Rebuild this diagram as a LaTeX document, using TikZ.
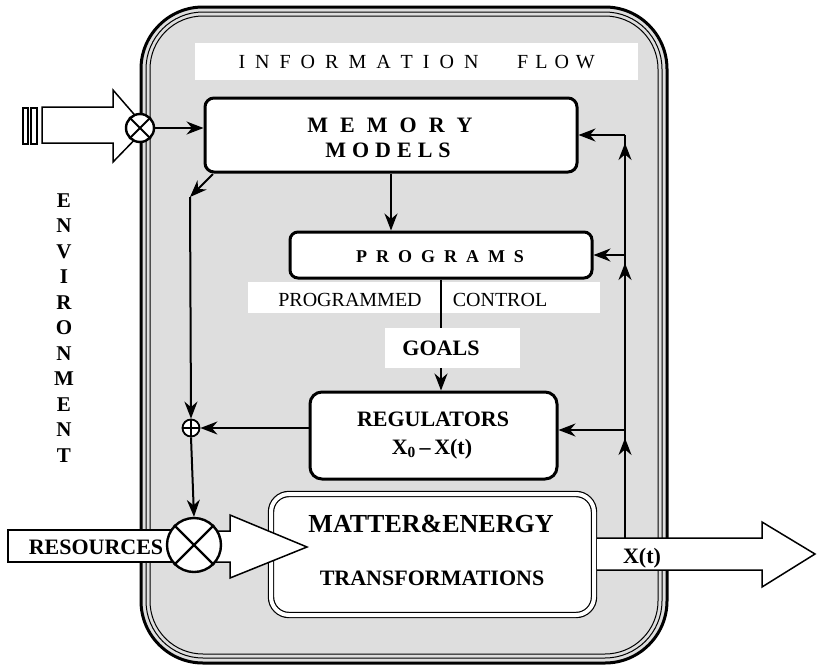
\documentclass[tikz,border=0pt]{standalone}
\usepackage{fontspec}
\setmainfont{Liberation Serif}
\usetikzlibrary{arrows.meta}
\newcommand\gp[1]{\hspace{#1pt}}
\begin{document}
\begin{tikzpicture}[x=1pt,y=-1pt,
  arr/.style={line width=2pt,-{Stealth[length=17pt,width=13pt]}},
  ln/.style={line width=2pt},
  box/.style={draw,line width=3pt,fill=white,rounded corners=9pt,inner sep=0pt},
  band/.style={fill=white,draw=none,inner sep=0pt},
  hollow/.style={draw,line width=1.5pt,fill=white,line join=miter},
  txt/.style={inner sep=0pt,anchor=base},
  bfs/.style={txt,font=\fontsize{#1}{#1}\selectfont\bfseries},
  rms/.style={txt,font=\fontsize{#1}{#1}\selectfont},
  ring/.style={circle,draw,fill=white,inner sep=0pt}
  ]
\useasboundingbox (0,0) rectangle (817,670);
% outer system boundary
\fill[black!13,rounded corners=62pt] (141,7) rectangle (667,663);
\draw[line width=3pt,rounded corners=62pt] (141,7) rectangle (667,663);
\draw[line width=1pt,rounded corners=57pt] (146,12) rectangle (662,658);
\draw[line width=1pt,rounded corners=53pt] (150,16) rectangle (658,654);

% white bands
\node[band,minimum width=443pt,minimum height=37pt] (infoband) at (416.5,61.5) {};
\node[band,minimum width=352pt,minimum height=31pt] (pcband) at (424,297.5) {};
\node[band,minimum width=135pt,minimum height=40pt] (goalband) at (452.5,348) {};

% boxes
\node[box,minimum width=372pt,minimum height=74pt] (mem) at (391,135) {};
\node[box,minimum width=302pt,minimum height=46pt,rounded corners=8pt] (prog) at (441,255) {};
\node[box,minimum width=247pt,minimum height=87pt,rounded corners=12pt] (reg) at (433.5,435.5) {};
\node[draw,fill=white,double,double distance=4pt,line width=1.2pt,rounded corners=18pt,
      minimum width=323pt,minimum height=121pt,inner sep=0pt] (mat) at (432.5,554.5) {};

% texts
\node[rms=20] (tinfo) at (358.5,68) {I\gp{10}N\gp{10}F\gp{10}O\gp{10}R\gp{10}M\gp{10}A\gp{10}T\gp{10}I\gp{10}O\gp{10}N};
\node[rms=20] (tflow) at (556,68) {F\gp{7}L\gp{7}O\gp{7}W};
\node[bfs=22] (tmem) at (390,132.5) {M\gp{12}E\gp{12}M\gp{12}O\gp{12}R\gp{12}Y};
\node[bfs=22] (tmod) at (388,157.5) {M\gp{6}O\gp{6}D\gp{6}E\gp{6}L\gp{6}S};
\node[bfs=18] (tprog) at (440,262) {P\gp{9}R\gp{9}O\gp{9}G\gp{9}R\gp{9}A\gp{9}M\gp{9}S};
\node[rms=20] (tpd) at (350,306) {PROGRAMMED};
\node[rms=20] (tctl) at (500,306) {CONTROL};
\node[bfs=22] (tgoal) at (441,355.5) {GOALS};
\node[bfs=22] (treg) at (433,426.5) {REGULATORS};
\node[bfs=22] (tx0) at (432,454.5) {X\textsubscript{0}\,--\,X(t)};
\node[bfs=26] (tmat) at (431,532) {MATTER\&ENERGY};
\node[bfs=22] (ttra) at (432,585.5) {TRANSFORMATIONS};
\foreach \l [count=\i from 0] in {E,N,V,I,R,O,N,M,E,N,T}
  \node[bfs=21,name=env\i] at (64,207+25.5*\i) {\l};

% connectors
\coordinate (fbB) at (625,538);
\coordinate (fbM) at (625,135);
\coordinate (fbP) at (625,255);
\coordinate (fbR) at (625,430);
\coordinate (uR) at (625,438);
\coordinate (uP) at (625,263);
\coordinate (uM) at (625,143);
\draw[ln] (fbB) -- (fbM);
\draw[arr] (fbM) -- (mem.east);
\draw[arr] (fbP) -- (prog.east);
\draw[arr] (fbR) -- (reg.east |- fbR);
\draw[arr] (fbB) -- (uR);
\draw[arr] (fbR) -- (uP);
\draw[arr] (fbP) -- (uM);

\draw[arr] (mem.south) -- (mem.south |- prog.north);
\draw[ln] (prog.south) -- (prog.south |- goalband.north);
\draw[arr] (goalband.south -| prog.south) -- (reg.north -| prog.south);

% summing points
\node[ring,line width=1.8pt,minimum size=17pt] (op) at (191,428) {};
\draw[line width=1.5pt] (op.north) -- (op.south) (op.west) -- (op.east);

\coordinate (dA) at (213,174);
\coordinate (dB) at (190,197);
\draw[arr] (dA) -- (dB);
\draw[arr] (dB) -- (op.north);
\draw[arr] (reg.west |- op) -- (op.east);

% input information arrow
\draw[line width=1.2pt] (23,108) rectangle (28,144) (31,108) rectangle (37,144);
\draw[hollow] (42,107) -- (113,107) -- (113,90) -- (146,128) -- (113,162) -- (113,143) -- (42,143) -- cycle;
\node[ring,line width=2.4pt,minimum size=28pt] (ox) at (140,128) {};
\draw[line width=2pt] (ox.north east) -- (ox.south west) (ox.north west) -- (ox.south east);
\draw[arr] (ox.east) -- (mem.west |- ox.east);

% resources arrow
\draw[hollow] (8,530) rectangle (172,562);
\node[bfs=22] (tres) at (96,554.5) {RESOURCES};
\draw[hollow] (215,531) -- (230,531) -- (230,515) -- (307,547) -- (230,578) -- (230,562) -- (215,562) -- cycle;
\node[ring,line width=2.4pt,minimum size=54pt] (ot) at (194,545) {};
\draw[line width=2.2pt] (ot.north east) -- (ot.south west) (ot.north west) -- (ot.south east);
\draw[arr] (op.south) -- (ot.north);

% output arrow
\draw[hollow] (597,538) -- (762,538) -- (762,522) -- (815,554) -- (762,587) -- (762,570) -- (597,570);
\node[bfs=22] (txt) at (642,563) {X(t)};
\end{tikzpicture}
\end{document}
